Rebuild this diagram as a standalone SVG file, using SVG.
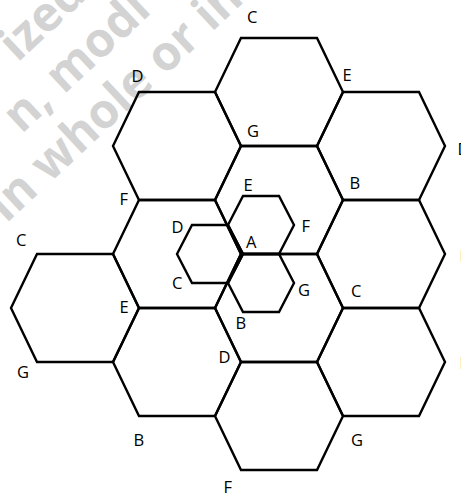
<svg xmlns="http://www.w3.org/2000/svg" width="461" height="494" viewBox="0 0 461 494">
<style>
.hex{fill:none;stroke:#000;stroke-width:2.4;stroke-linejoin:miter}
.lbl{font-family:"Open Sans","DejaVu Sans",sans-serif;font-size:16.5px;fill:#000}
.wm{font-family:"Open Sans","DejaVu Sans",sans-serif;font-size:48px;font-weight:bold;fill:#d3d3d3}
</style>
<rect width="461" height="494" fill="#fff"/>
<g id="watermark" transform="rotate(-43)">
<text class="wm" x="-30" y="58">ized</text>
<text class="wm" x="-76" y="113">n, modi</text>
<text class="wm" x="-148" y="168">in whole or in</text>
</g>
<g id="connectors"></g>
<g id="hex-top"><polygon class="hex" points="215,92 241,38 317,38 343,92 317,146 241,146"/></g>
<g id="hex-upper-left"><polygon class="hex" points="113,146 139,92 215,92 241,146 215,200 139,200"/></g>
<g id="hex-upper-right"><polygon class="hex" points="317,146 343,92 419,92 445,146 419,200 343,200"/></g>
<g id="hex-center-upper"><polygon class="hex" points="215,200 241,146 317,146 343,200 317,254 241,254"/></g>
<g id="hex-left"><polygon class="hex" points="113,254 139,200 215,200 241,254 215,308 139,308"/></g>
<g id="hex-right"><polygon class="hex" points="317,254 343,200 419,200 445,254 419,308 343,308"/></g>
<g id="hex-far-left"><polygon class="hex" points="11,308 37,254 113,254 139,308 113,362 37,362"/></g>
<g id="hex-center-lower"><polygon class="hex" points="215,308 241,254 317,254 343,308 317,362 241,362"/></g>
<g id="hex-lower-left"><polygon class="hex" points="113,362 139,308 215,308 241,362 215,416 139,416"/></g>
<g id="hex-lower-right"><polygon class="hex" points="317,362 343,308 419,308 445,362 419,416 343,416"/></g>
<g id="hex-bottom"><polygon class="hex" points="215,416 241,362 317,362 343,416 317,470 241,470"/></g>
<g id="small-hex-left"><polygon class="hex" points="177,254 192,225 228,225 243,254 228,283 192,283"/></g>
<g id="small-hex-upper"><polygon class="hex" points="228,225 243,196 279,196 294,225 279,254 243,254"/></g>
<g id="small-hex-lower"><polygon class="hex" points="228,283 243,254 279,254 294,283 279,312 243,312"/></g>
<g id="labels">
<text class="lbl" x="247" y="23">C</text>
<text class="lbl" x="131.5" y="82">D</text>
<text class="lbl" x="342.5" y="81">E</text>
<text class="lbl" x="247" y="137">G</text>
<text class="lbl" x="457.5" y="155">D</text>
<text class="lbl" x="243.5" y="191">E</text>
<text class="lbl" x="349.5" y="189">B</text>
<text class="lbl" x="119.5" y="205">F</text>
<text class="lbl" x="171.5" y="233">D</text>
<text class="lbl" x="301.5" y="232">F</text>
<text class="lbl" x="246" y="248">A</text>
<text class="lbl" x="172" y="289">C</text>
<text class="lbl" x="298" y="296">G</text>
<text class="lbl" x="235.5" y="329">B</text>
<text class="lbl" x="16" y="246">C</text>
<text class="lbl" x="119.5" y="313">E</text>
<text class="lbl" x="351" y="297">C</text>
<text class="lbl" x="218.5" y="363">D</text>
<text class="lbl" x="17" y="378">G</text>
<text class="lbl" x="133.5" y="446">B</text>
<text class="lbl" x="351" y="446">G</text>
<text class="lbl" x="223.5" y="493">F</text>
<text class="lbl" x="459.5" y="262">F</text>
<text class="lbl" x="459.5" y="369">E</text>
</g>
</svg>
